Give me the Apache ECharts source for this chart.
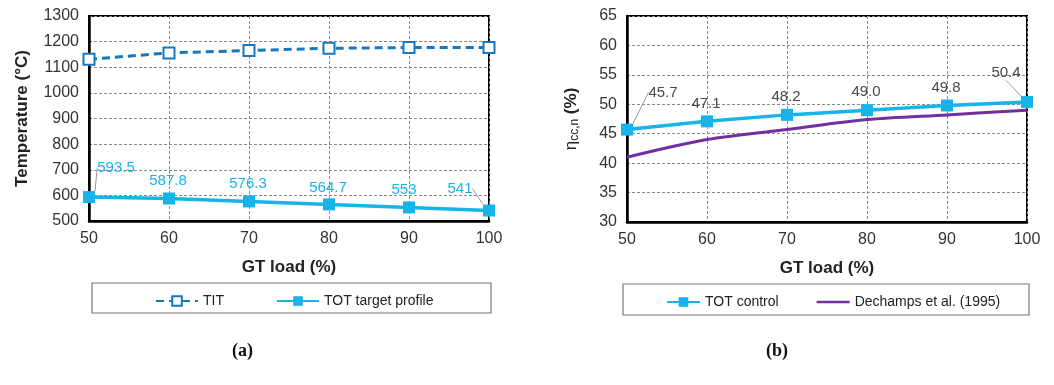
<!DOCTYPE html>
<html>
<head>
<meta charset="utf-8">
<script src="https://cdn.jsdelivr.net/npm/echarts@6/dist/echarts.min.js"></script>
<style>
html,body{margin:0;padding:0;background:#fff;}
#c{width:1054px;height:385px;}
</style>
</head>
<body>
<div id="c"></div>
<script>
// ---- data ----
const loads = [50, 60, 70, 80, 90, 100];
const xTicks = [50, 60, 70, 80, 90, 100];
const titValues = [1131, 1156, 1165, 1174, 1177, 1177];
const totTarget = [593.5, 587.8, 576.3, 564.7, 553, 541];
const totControl = [45.7, 47.1, 48.2, 49.0, 49.8, 50.4];
const dechamps = [41.0, 44.0, 45.7, 47.4, 48.2, 49.0];
const leftYTicks = [500, 600, 700, 800, 900, 1000, 1100, 1200, 1300];
const rightYTicks = [30, 35, 40, 45, 50, 55, 60, 65];

// label offsets (styling, px)
const leftLabelOffsets = [[27, -29], [-1, -18], [-1, -18], [-1, -17], [-5, -18], [-29, -22]];
const rightLabelOffsets = [[36, -37], [-1, -17], [-1, -18], [-1, -18], [-1, -18], [-21, -29]];

const CYAN = '#17b4ea';
const TITBLUE = '#1878bd';
const PURPLE = '#7030a0';
const FONT = 'Liberation Sans, Arial, sans-serif';

const chart = echarts.init(document.getElementById('c'));

function pairs(ys) { return loads.map((x, i) => [x, ys[i]]); }

const splitLineCfg = { show: true, lineStyle: { color: '#8a8a8a', type: [3, 2], width: 1 } };

function xAxisCfg(gridIndex) {
  return {
    type: 'value', gridIndex, min: xTicks[0], max: xTicks[xTicks.length - 1], interval: 10,
    name: 'GT load (%)', nameLocation: 'middle', nameGap: 38,
    nameTextStyle: { fontFamily: FONT, fontSize: 17, fontWeight: 'bold', color: '#222' },
    axisLine: { show: true, lineStyle: { color: '#000', width: 2.5 } },
    axisTick: { show: false },
    axisLabel: { fontFamily: FONT, fontSize: 16, color: '#333', margin: 10, formatter: v => String(v) },
    splitLine: splitLineCfg
  };
}

const option = {
  animation: false,
  backgroundColor: '#fff',
  grid: [
    { left: 89, top: 16, width: 400, height: 205, show: true, borderColor: '#000', borderWidth: 2 },
    { left: 627, top: 16, width: 400, height: 206, show: true, borderColor: '#000', borderWidth: 2 }
  ],
  xAxis: [xAxisCfg(0), xAxisCfg(1)],
  yAxis: [
    {
      type: 'value', gridIndex: 0, min: leftYTicks[0], max: leftYTicks[leftYTicks.length - 1], interval: 100,
      name: 'Temperature (°C)', nameLocation: 'middle', nameGap: 58, nameRotate: 90,
      nameTextStyle: { fontFamily: FONT, fontSize: 17, fontWeight: 'bold', color: '#222' },
      axisLine: { show: true, lineStyle: { color: '#000', width: 2.5 } },
      axisTick: { show: false },
      axisLabel: { fontFamily: FONT, fontSize: 16, color: '#333', margin: 10, formatter: v => String(v) },
      splitLine: splitLineCfg
    },
    {
      type: 'value', gridIndex: 1, min: rightYTicks[0], max: rightYTicks[rightYTicks.length - 1], interval: 5,
      name: '{a|η}{b|cc,n}{c| (%)}', nameLocation: 'middle', nameGap: 46, nameRotate: 90,
      nameTextStyle: {
        rich: {
          a: { fontFamily: FONT, fontSize: 17, color: '#222' },
          b: { fontFamily: FONT, fontSize: 12, color: '#222', padding: [8, 0, 0, 0] },
          c: { fontFamily: FONT, fontSize: 17, fontWeight: 'bold', color: '#222' }
        }
      },
      axisLine: { show: true, lineStyle: { color: '#000', width: 2.5 } },
      axisTick: { show: false },
      axisLabel: { fontFamily: FONT, fontSize: 16, color: '#333', margin: 10, formatter: v => String(v) },
      splitLine: splitLineCfg
    }
  ],
  legend: [
    {
      data: ['TIT', 'TOT target profile'], left: 150, top: 289, itemWidth: 42, itemHeight: 12, itemGap: 52,
      textStyle: { fontFamily: FONT, fontSize: 14, color: '#222' }
    },
    {
      data: ['TOT control', { name: 'Dechamps et al. (1995)', icon: 'path://M0 0H40V3H0Z' }],
      left: 661, top: 290, itemWidth: 33, itemHeight: 12, itemGap: 38,
      textStyle: { fontFamily: FONT, fontSize: 14, color: '#222' }
    }
  ],
  graphic: [
    { type: 'rect', shape: { x: 92, y: 283, width: 399, height: 30 }, style: { fill: 'none', stroke: '#777', lineWidth: 1.2 } },
    { type: 'rect', shape: { x: 623, y: 284, width: 406, height: 31 }, style: { fill: 'none', stroke: '#777', lineWidth: 1.2 } },
    { type: 'text', left: 232, top: 342, style: { text: '(a)', font: 'bold 18px "Liberation Serif", serif', fill: '#111' } },
    { type: 'text', left: 766, top: 342, style: { text: '(b)', font: 'bold 18px "Liberation Serif", serif', fill: '#111' } }
  ],
  series: [
    {
      name: 'TIT', type: 'line', xAxisIndex: 0, yAxisIndex: 0, data: pairs(titValues),
      symbol: 'rect', symbolSize: 11,
      itemStyle: { color: '#fff', borderColor: TITBLUE, borderWidth: 2 },
      lineStyle: { color: TITBLUE, width: 3, type: [8, 5] },
      z: 3
    },
    {
      name: 'TOT target profile', type: 'line', xAxisIndex: 0, yAxisIndex: 0,
      data: pairs(totTarget).map((d, i) => ({ value: d, labelLine: { show: i === 0 || i === 5 } })),
      symbol: 'rect', symbolSize: 12,
      itemStyle: { color: CYAN },
      lineStyle: { color: CYAN, width: 3.5 },
      label: {
        show: true, position: 'inside', fontFamily: FONT, fontSize: 15, color: CYAN,
        formatter: p => String(p.value[1])
      },
      labelLayout: p => ({ dx: leftLabelOffsets[p.dataIndex][0], dy: leftLabelOffsets[p.dataIndex][1] }),
      labelLine: { lineStyle: { color: '#999', width: 1 } },
      z: 4
    },
    {
      name: 'TOT control', type: 'line', xAxisIndex: 1, yAxisIndex: 1,
      data: pairs(totControl).map((d, i) => ({ value: d, labelLine: { show: i === 0 || i === 5 } })),
      symbol: 'rect', symbolSize: 12,
      itemStyle: { color: CYAN },
      lineStyle: { color: CYAN, width: 3.5 },
      label: {
        show: true, position: 'inside', fontFamily: FONT, fontSize: 15, color: '#4a4a4a',
        formatter: p => p.value[1].toFixed(1)
      },
      labelLayout: p => ({ dx: rightLabelOffsets[p.dataIndex][0], dy: rightLabelOffsets[p.dataIndex][1] }),
      labelLine: { lineStyle: { color: '#999', width: 1 } },
      z: 4
    },
    {
      name: 'Dechamps et al. (1995)', type: 'line', xAxisIndex: 1, yAxisIndex: 1, data: pairs(dechamps),
      symbol: 'none', smooth: 0.3,
      itemStyle: { color: PURPLE },
      lineStyle: { color: PURPLE, width: 3 },
      z: 3
    }
  ]
};
chart.setOption(option);
</script>
</body>
</html>
